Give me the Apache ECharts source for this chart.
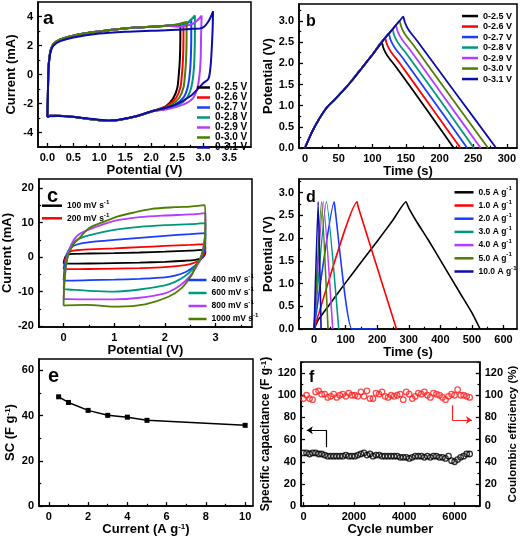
<!DOCTYPE html>
<html><head><meta charset="utf-8">
<script src="https://cdn.jsdelivr.net/npm/echarts@6/dist/echarts.min.js"></script>
<style>html,body{margin:0;padding:0;background:#fff}#c{width:520px;height:537px}</style>
</head><body><div id="c"></div>
<script>
const FONT = '"Liberation Sans", Arial, Helvetica, sans-serif';

// ---------- Panel a : CV at different voltage windows ----------
const aNames = ['0-2.5 V','0-2.6 V','0-2.7 V','0-2.8 V','0-2.9 V','0-3.0 V','0-3.1 V'];
const aUpper = [[0,-2.92],[0.01,-1.5],[0.02,0.3],[0.04,1.2],[0.07,1.75],[0.12,2.1],[0.25,2.42],[0.5,2.68],[0.8,2.88],[1.0,2.97],[1.34,3.12],[1.7,3.24],[2.0,3.3],[2.3,3.36]];
const aLower = [[2.0,-2.55],[1.7,-2.9],[1.4,-3.12],[1.2,-3.2],[1.0,-3.15],[0.7,-3.02],[0.4,-2.88],[0.2,-2.85],[0.05,-2.85],[0,-2.92]];
const a25 = [[2.45,3.38],[2.56,3.42],[2.56,2.5],[2.55,1.0],[2.53,0],[2.5,-0.95],[2.42,-1.65],[2.28,-2.2],[2.15,-2.38]];
const a26 = [[2.5,3.4],[2.62,3.5],[2.62,2.5],[2.61,1.0],[2.59,0],[2.56,-0.9],[2.48,-1.6],[2.35,-2.05],[2.18,-2.35]];
const a27 = [[2.5,3.42],[2.7,3.55],[2.77,3.75],[2.77,2.5],[2.76,1.0],[2.74,0],[2.7,-0.9],[2.62,-1.6],[2.45,-2.1],[2.22,-2.38]];
const a28 = [[2.5,3.45],[2.7,3.6],[2.84,4.07],[2.84,2.8],[2.83,1.0],[2.81,0],[2.77,-0.9],[2.68,-1.65],[2.5,-2.15],[2.25,-2.4]];
const a29 = [[2.5,3.3],[2.8,3.5],[2.97,4.05],[2.96,2.8],[2.95,1.0],[2.93,0],[2.89,-0.9],[2.8,-1.65],[2.6,-2.1],[2.3,-2.4]];
const a30 = [[2.5,3.45],[2.68,3.62],[2.68,2.5],[2.67,1.0],[2.65,0],[2.62,-0.9],[2.54,-1.6],[2.4,-2.05],[2.2,-2.38]];
const a31 = [[0,-2.95],[0.01,-1.5],[0.02,0.2],[0.04,1.1],[0.07,1.65],[0.12,2.0],[0.25,2.3],[0.5,2.55],[1.0,2.82],[1.5,2.95],[2.0,3.02],[2.5,3.08],[2.8,3.15],[2.97,3.2],[3.09,3.6],[3.19,4.36],[3.18,3.0],[3.16,1.5],[3.14,0.5],[3.1,-0.3],[3.0,-0.6],[2.77,-1.45],[2.45,-2.1],[2.0,-2.55],[1.7,-2.88],[1.4,-3.1],[1.2,-3.16],[1.0,-3.12],[0.7,-3.0],[0.4,-2.9],[0.2,-2.87],[0.05,-2.88],[0,-2.95]];
const aCurves = [aUpper.concat(a25, aLower), aUpper.concat(a26, aLower), aUpper.concat(a27, aLower), aUpper.concat(a28, aLower), aUpper.concat(a29, aLower), aUpper.concat(a30, aLower), a31];

// ---------- Panel b : GCD at different windows ----------
const bCharge = [[0,0],[3,0.12],[8,0.3],[12,0.43],[20,0.66],[32,0.95],[45,1.16],[57,1.36],[70,1.6],[85,1.9],[100,2.2]];
const b25 = [[114,2.5],[116,2.38],[120,2.24],[125,2.12],[135,1.92],[178,0.97],[221,0]];
const b26 = [[114,2.5],[119,2.6],[121,2.48],[125,2.34],[130,2.22],[140,2.02],[185,1.02],[231,0]];
const b27 = [[114,2.5],[119,2.6],[124.5,2.7],[126.5,2.58],[130.5,2.44],[135.5,2.32],[145.5,2.12],[193,1.07],[241,0]];
const b28 = [[114,2.5],[119,2.6],[124.5,2.7],[130,2.8],[132,2.68],[136,2.54],[141,2.42],[151,2.22],[201,1.12],[251,0]];
const b29 = [[114,2.5],[119,2.6],[124.5,2.7],[130,2.8],[135,2.9],[137,2.78],[141,2.64],[146,2.52],[156,2.32],[208,1.17],[261,0]];
const b30 = [[114,2.5],[119,2.6],[124.5,2.7],[130,2.8],[135,2.9],[140.5,3.0],[142.5,2.88],[146.5,2.74],[151.5,2.62],[161.5,2.42],[216,1.22],[272,0]];
const b31 = [[114,2.5],[119,2.6],[124.5,2.7],[130,2.8],[135,2.9],[140.5,3.0],[146,3.1],[148,2.98],[152,2.84],[157,2.72],[167,2.52],[225,1.27],[284,0]];
const bCurves = [b25,b26,b27,b28,b29,b30,b31].map(t => bCharge.concat(t));

// ---------- Panel c : CV at different scan rates ----------
const cNames = ['100 mV s-1','200 mV s-1','400 mV s-1','600 mV s-1','800 mV s-1','1000 mV s-1'];
const c100 = [[0,-1.9],[0.01,-1.0],[0.03,0.0],[0.08,0.7],[0.2,0.95],[0.5,1.05],[1.0,1.15],[1.5,1.35],[2.0,1.6],[2.5,1.9],[2.78,2.1],[2.8,1.5],[2.78,0.5],[2.72,-0.3],[2.6,-0.8],[2.4,-1.05],[2.0,-1.35],[1.5,-1.6],[1.0,-1.75],[0.5,-1.85],[0.05,-1.9],[0,-1.9]];
const c200 = [[0,-3.5],[0.02,-1.5],[0.05,0.5],[0.12,1.6],[0.25,2.0],[0.5,2.25],[1.0,2.55],[1.5,2.9],[2.0,3.25],[2.5,3.55],[2.79,3.8],[2.8,2.5],[2.78,1.0],[2.72,-0.5],[2.6,-1.5],[2.4,-2.3],[2.0,-2.9],[1.5,-3.2],[1.0,-3.35],[0.5,-3.45],[0.05,-3.5],[0,-3.5]];
const c400 = [[0,-6.8],[0.02,-3.0],[0.05,0],[0.1,2.0],[0.2,3.3],[0.35,4.0],[0.6,4.5],[1.0,5.0],[1.5,5.6],[2.0,6.2],[2.5,6.7],[2.8,7.0],[2.8,4.0],[2.76,1.0],[2.68,-1.3],[2.55,-3.0],[2.4,-4.4],[2.2,-5.4],[2.0,-5.9],[1.5,-6.3],[1.0,-6.55],[0.5,-6.7],[0.05,-6.8],[0,-6.8]];
const c600 = [[0,-9.3],[0.02,-5.0],[0.06,0],[0.12,2.5],[0.2,4.3],[0.3,5.3],[0.5,6.3],[1.0,7.9],[1.5,8.8],[2.0,9.3],[2.5,9.6],[2.8,9.9],[2.8,6.0],[2.76,2.0],[2.68,-1.0],[2.55,-3.5],[2.4,-5.5],[2.2,-7.2],[2.0,-8.2],[1.5,-9.4],[1.0,-10.0],[0.5,-9.8],[0.1,-9.4],[0,-9.3]];
const c800 = [[0,-12.2],[0.02,-7],[0.06,-1],[0.12,2.5],[0.2,5.0],[0.3,6.6],[0.5,8.0],[1.0,10.5],[1.5,11.6],[2.0,12.1],[2.5,12.4],[2.8,12.8],[2.8,8.0],[2.76,3.0],[2.68,-1.2],[2.55,-4.5],[2.4,-7.0],[2.2,-9.2],[2.0,-10.5],[1.5,-11.8],[1.0,-12.3],[0.5,-12.3],[0.1,-12.2],[0,-12.2]];
const c1000 = [[0,-14.1],[0.01,-8],[0.05,-2],[0.11,1.2],[0.2,3.8],[0.31,5.5],[0.5,8.4],[0.8,10.3],[1.09,11.9],[1.4,13.0],[1.74,14.0],[2.2,14.5],[2.5,14.7],[2.79,15.1],[2.8,9.0],[2.77,3.0],[2.7,-0.5],[2.6,-2.8],[2.53,-5.2],[2.33,-9.0],[2.07,-11.5],[1.61,-13.7],[1.09,-14.4],[0.44,-13.9],[0.05,-14.0],[0,-14.1]];
const cCurves = [c100,c200,c400,c600,c800,c1000];

// ---------- Panel d : GCD at different current densities ----------
const dNames = ['0.5 A g-1','1.0 A g-1','2.0 A g-1','3.0 A g-1','4.0 A g-1','5.0 A g-1','10.0 A g-1'];
const d05 = [[0,0],[5,0.08],[13,0.2],[50,0.55],[100,1.02],[150,1.48],[200,1.93],[250,2.4],[291,2.8],[300,2.66],[325,2.36],[360,1.98],[410,1.4],[460,0.82],[500,0.36],[526,0]];
const d10 = [[0,0],[3,0.08],[136.5,2.8],[139,2.7],[261,0]];
const d20 = [[0,0],[63.5,2.8],[65,2.72],[120,0],[200,0]];
const d30 = [[0,0],[39,2.8],[78,0]];
const d40 = [[0,0],[28.6,2.8],[59,0]];
const d50 = [[0,0],[23.4,2.8],[44,0]];
const d100 = [[0,0],[12.7,2.8],[22,0]];
const dCurves = [d05,d10,d20,d30,d40,d50,d100];

// ---------- Panel e : rate capability ----------
const eCurrent = [0.5,1,2,3,4,5,10];
const eSC = [48.3,45.8,42.3,40.1,39.3,37.9,35.7];

// ---------- Panel f : cycling ----------
const fCycles = [0,120,240,360,480,600,720,840,960,1080,1200,1320,1440,1560,1680,1800,1920,2040,2160,2280,2400,2520,2640,2760,2880,3000,3120,3240,3360,3480,3600,3720,3840,3960,4080,4200,4320,4440,4560,4680,4800,4920,5040,5160,5280,5400,5520,5640,5760,5880,6000,6120,6240,6360,6480,6600];
const fCap = [48,48,47,48,48,47,47,46,45,45,45,45,45,45,46,45,45,45,46,47,48,46,47,45,46,46,45,45,45,45,45,45,44,44,44,43,44,45,45,45,44,45,44,45,45,44,44,43,45,41,40,42,44,45,47,47];
const fCE = [97,100,97,96,103,104,101,101,98,99,101,98,100,101,99,102,100,100,99,103,99,104,97,97,102,101,103,99,98,100,99,100,101,96,103,101,97,99,102,101,103,100,98,102,101,100,98,96,99,101,100,105,100,100,99,98];
const fArrowCapStem = [[920,53],[920,68.5]];
const fArrowCapHead = [[920,68.5],[130,68.5]];
const fArrowCEStem = [[5910,91],[5910,77.7]];
const fArrowCEHead = [[5910,77.7],[6690,77.7]];

const COLORS7 = ['#000000','#ff0000','#1a3cff','#00987a','#b43cff','#4e7d00','#0c0caa'];
const COLORS_C = ['#000000','#ff0000','#1a3cff','#00987a','#b43cff','#4e7d00'];

// ---------- option building ----------
const xAxis = [], yAxis = [], series = [], legend = [], graphic = [];
const grid = [
  {left:38, top:2, width:213, height:145},
  {left:299, top:4, width:218, height:144},
  {left:38, top:179, width:214, height:148},
  {left:299, top:179, width:218, height:150},
  {left:39, top:359, width:214, height:148},
  {left:301, top:362, width:186, height:145}
].map(g => Object.assign(g, {show:true, borderColor:'#000', borderWidth:1.5, containLabel:false}));

function range(a, b, s) { const r = []; for (let v = a; v <= b + 1e-9; v += s) r.push(+v.toFixed(6)); return r; }

function addAxis(list, g, pos, s) {
  const idx = list.length;
  const ns = s.nameSize || 13;
  list.push({
    type:'value', gridIndex:g, position:pos, min:s.min, max:s.max,
    axisLine:{show:true, onZero:false, lineStyle:{color:'#000', width:1.5}},
    axisTick:{show:true, inside:true, length:4, customValues:s.major, lineStyle:{color:'#000', width:1.3}},
    axisLabel:{show:true, customValues:s.major, formatter:s.fmt, fontSize:s.labelSize||11, fontWeight:'bold', color:'#000', fontFamily:FONT, margin:s.margin||5},
    splitLine:{show:false},
    name:s.name, nameLocation:'middle', nameGap:s.nameGap, nameRotate:s.nameRotate,
    nameTextStyle:{fontSize:ns, fontWeight:'bold', color:'#000', fontFamily:FONT,
      rich:{a:{fontSize:ns, fontWeight:'bold', color:'#000', fontFamily:FONT},
            s:{fontSize:8, fontWeight:'bold', color:'#000', fontFamily:FONT, verticalAlign:'top'}}}
  });
  list.push({
    type:'value', gridIndex:g, position:pos, min:s.min, max:s.max,
    axisLine:{show:false, onZero:false},
    axisTick:{show:true, inside:true, length:2.3, customValues:s.minor, lineStyle:{color:'#000', width:1.2}},
    axisLabel:{show:false}, splitLine:{show:false}
  });
  return idx;
}
const f1 = v => v.toFixed(1);
const f0 = v => String(v);

// Panel a
let xa = addAxis(xAxis, 0, 'bottom', {min:-0.18, max:3.92, major:range(0,3.5,0.5), minor:range(0.25,3.75,0.5), fmt:f1, name:'Potential (V)', nameGap:11});
let ya = addAxis(yAxis, 0, 'left', {min:-5, max:5, major:[-4,-2,0,2,4], minor:[-3,-1,1,3], fmt:f0, name:'Current (mA)', nameGap:20});
aCurves.forEach((d, i) => series.push({type:'line', name:aNames[i], xAxisIndex:xa, yAxisIndex:ya, data:d, showSymbol:false, symbol:'none', lineStyle:{width:2, color:COLORS7[i]}, itemStyle:{color:COLORS7[i]}, smooth:0.3}));

// Panel b
let xb = addAxis(xAxis, 1, 'bottom', {min:-9, max:315, major:range(0,300,50), minor:range(25,275,50), fmt:f0, name:'Time (s)', nameGap:12});
let yb = addAxis(yAxis, 1, 'left', {min:0, max:3.4, major:range(0,3,0.5), minor:range(0.25,3.25,0.5), fmt:f1, name:'Potential (V)', nameGap:23});
bCurves.forEach((d, i) => series.push({type:'line', name:aNames[i], xAxisIndex:xb, yAxisIndex:yb, data:d, showSymbol:false, symbol:'none', lineStyle:{width:1.8, color:COLORS7[i]}, itemStyle:{color:COLORS7[i]}, smooth:0.2}));

// Panel c
let xc = addAxis(xAxis, 2, 'bottom', {min:-0.49, max:3.72, major:[0,1,2,3], minor:[-0.5,0.5,1.5,2.5,3.5], fmt:f0, name:'Potential (V)', nameGap:14});
let yc = addAxis(yAxis, 2, 'left', {min:-20.3, max:22.7, major:[-20,-10,0,10,20], minor:[-15,-5,5,15], fmt:f0, name:'Current (mA)', nameGap:23});
cCurves.forEach((d, i) => series.push({type:'line', name:cNames[i], xAxisIndex:xc, yAxisIndex:yc, data:d, showSymbol:false, symbol:'none', lineStyle:{width:1.8, color:COLORS_C[i]}, itemStyle:{color:COLORS_C[i]}, smooth:0.3}));

// Panel d
let xd = addAxis(xAxis, 3, 'bottom', {min:-48, max:643, major:range(0,600,100), minor:range(50,550,100), fmt:f0, name:'Time (s)', nameGap:12});
let yd = addAxis(yAxis, 3, 'left', {min:0, max:3.3, major:range(0,3,0.5), minor:range(0.25,3.25,0.5), fmt:f1, name:'Potential (V)', nameGap:23});
dCurves.forEach((d, i) => series.push({type:'line', name:dNames[i], xAxisIndex:xd, yAxisIndex:yd, data:d, showSymbol:false, symbol:'none', lineStyle:{width:1.6, color:COLORS7[i]}, itemStyle:{color:COLORS7[i]}, smooth:0.15}));

// Panel e
let xe = addAxis(xAxis, 4, 'bottom', {min:-0.5, max:10.4, major:range(0,10,2), minor:range(1,9,2), fmt:f0, name:'{a|Current (A g}{s|-1}{a|)}', nameGap:11});
let ye = addAxis(yAxis, 4, 'left', {min:0, max:65, major:[0,20,40,60], minor:[10,30,50], fmt:f0, name:'{a|SC (F g}{s|-1}{a|)}', nameGap:22});
series.push({type:'line', name:'SC', xAxisIndex:xe, yAxisIndex:ye, data:eCurrent.map((x,i)=>[x,eSC[i]]), symbol:'rect', symbolSize:5, showSymbol:true, lineStyle:{width:1.5, color:'#000'}, itemStyle:{color:'#000'}});

// Panel f
let xf = addAxis(xAxis, 5, 'bottom', {min:-100, max:7000, major:[0,2000,4000,6000], minor:[1000,3000,5000], fmt:f0, name:'Cycle number', nameGap:9});
let yfL = addAxis(yAxis, 5, 'left', {min:0, max:130, major:range(0,120,20), minor:range(10,130,20), fmt:f0, name:'{a|Specific capacitance (F g}{s|-1}{a|)}', nameGap:29, nameSize:12});
let yfR = addAxis(yAxis, 5, 'right', {min:0, max:130, major:range(0,120,20), minor:range(10,130,20), fmt:f0, name:'Coulombic efficiency (%)', nameGap:19, nameSize:11.5, nameRotate:90});
series.push({type:'scatter', name:'cap', xAxisIndex:xf, yAxisIndex:yfL, data:fCycles.map((x,i)=>[x,fCap[i]]), symbol:'circle', symbolSize:5.5, itemStyle:{color:'rgba(0,0,0,0)', borderColor:'#000', borderWidth:1.3}});
series.push({type:'scatter', name:'ce', xAxisIndex:xf, yAxisIndex:yfR, data:fCycles.map((x,i)=>[x,fCE[i]]), symbol:'circle', symbolSize:5.5, itemStyle:{color:'rgba(0,0,0,0)', borderColor:'#ff2020', borderWidth:1.3}});
function arrowSeries(coords, yIdx, color, head) {
  return {type:'lines', coordinateSystem:'cartesian2d', xAxisIndex:xf, yAxisIndex:yIdx, data:[{coords}], lineStyle:{color, width:1.2, opacity:1, curveness:0}, symbol: head ? ['none','arrow'] : ['none','none'], symbolSize:[6,6], silent:true};
}
series.push(arrowSeries(fArrowCapStem, yfL, '#000', false));
series.push(arrowSeries(fArrowCapHead, yfL, '#000', true));
series.push(arrowSeries(fArrowCEStem, yfR, '#ff2020', false));
series.push(arrowSeries(fArrowCEHead, yfR, '#ff2020', true));

// Legends
const supRich = (size, lh) => ({a:{fontSize:size, fontWeight:'bold', fontFamily:FONT, color:'#000', lineHeight:lh}, s:{fontSize:size*0.72, fontWeight:'bold', fontFamily:FONT, color:'#000', verticalAlign:'top', lineHeight:lh}});
function mkLegend(names, left, top, itemW, lh, fs, sup) {
  return {data:names, orient:'vertical', left, top, padding:0, itemWidth:itemW, itemHeight:2.5, itemGap:0, icon:'rect', selectedMode:false,
    formatter: sup ? (n => '{a|' + n.replace(/-1$/, '') + '}{s|-1}') : (n => n),
    textStyle:{fontSize:fs, fontWeight:'bold', fontFamily:FONT, color:'#000', lineHeight:lh, rich: sup ? supRich(fs, lh) : undefined}};
}
legend.push(mkLegend(aNames, 197, 82.5, 13, 9.5, 10, false));
legend.push(mkLegend(aNames, 462, 10.8, 16, 10.5, 9, false));
legend.push(mkLegend(cNames.slice(0,2), 42, 199.4, 20, 12.6, 8.5, true));
legend.push(mkLegend(cNames.slice(2), 188.5, 273.5, 18, 13, 8.5, true));
legend.push(mkLegend(dNames, 454.5, 185.7, 19, 13.2, 8.5, true));

// Panel letters
[['a',43,18.7,19],['b',306,21.4,16],['c',47,196.7,20],['d',306,198,16],['e',48,376.7,20],['f',309,378,16]].forEach(p => {
  graphic.push({type:'text', x:p[1], y:p[2], style:{text:p[0], font:'bold ' + p[3] + 'px ' + FONT, fill:'#000', verticalAlign:'middle'}});
});

const chart = echarts.init(document.getElementById('c'));
chart.setOption({animation:false, backgroundColor:'#fff', grid, xAxis, yAxis, series, legend, graphic});
</script></body></html>
